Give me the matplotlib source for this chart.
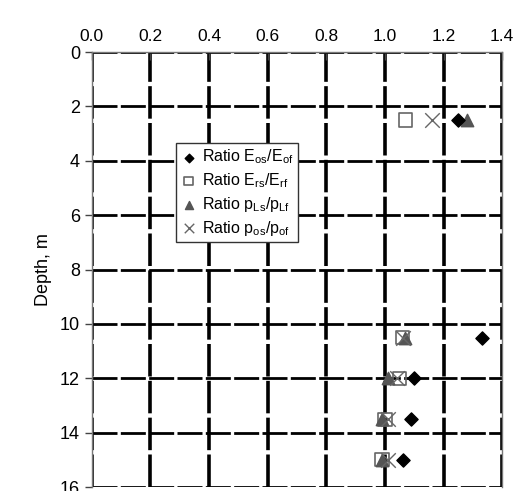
import matplotlib.pyplot as plt

plt.rcParams['font.family'] = ['Liberation Sans', 'DejaVu Sans']

# depths (m) and ratios for each series
depth_e0 = [2.5, 10.5, 12.0, 13.5, 15.0]
ratio_e0 = [1.25, 1.33, 1.10, 1.09, 1.06]

depth_er = [2.5, 10.5, 12.0, 13.5, 15.0]
ratio_er = [1.07, 1.06, 1.05, 1.00, 0.99]

depth_pl = [2.5, 10.5, 12.0, 13.5, 15.0]
ratio_pl = [1.28, 1.07, 1.01, 0.99, 0.99]

depth_p0 = [2.5, 10.5, 12.0, 13.5, 15.0]
ratio_p0 = [1.16, 1.06, 1.04, 1.01, 1.01]

x_ticks = [0.0, 0.2, 0.4, 0.6, 0.8, 1.0, 1.2, 1.4]
y_ticks = [0, 2, 4, 6, 8, 10, 12, 14, 16]

fig = plt.figure(figsize=(5.13, 4.91), dpi=100)
ax = fig.add_axes([0.179, 0.008, 0.800, 0.886])

ax.scatter(ratio_e0, depth_e0, marker='D', s=45, color='black', zorder=5,
           label=r'Ratio E$_{\mathregular{os}}$/E$_{\mathregular{of}}$')
ax.scatter(ratio_er, depth_er, marker='s', s=90, facecolor='none',
           edgecolor='#666666', linewidth=1.2, zorder=4,
           label=r'Ratio E$_{\mathregular{rs}}$/E$_{\mathregular{rf}}$')
ax.scatter(ratio_pl, depth_pl, marker='^', s=80, color='#555555', zorder=4,
           label=r'Ratio p$_{\mathregular{Ls}}$/p$_{\mathregular{Lf}}$')
ax.scatter(ratio_p0, depth_p0, marker='x', s=110, color='#666666',
           linewidth=1.0, zorder=4,
           label=r'Ratio p$_{\mathregular{os}}$/p$_{\mathregular{of}}$')

ax.set_xlim(0, 1.4)
ax.set_ylim(16, 0)
ax.set_xticks(x_ticks)
ax.set_xticklabels([f'{v:.1f}' for v in x_ticks])
ax.set_yticks(y_ticks)
ax.xaxis.tick_top()
ax.tick_params(axis='x', labelsize=12.5, direction='in', length=6,
               color='#444444', width=1.0, pad=6)
ax.tick_params(axis='y', labelsize=13, direction='out', length=5,
               color='#444444', width=1.0)
ax.set_ylabel('Depth, m', fontsize=13, labelpad=6)

ax.xaxis.grid(True, color='black', linestyle=(0, (9, 1.2)), linewidth=2.6)
ax.yaxis.grid(True, color='black', linestyle=(0, (9, 1.2)), linewidth=2.0)
ax.set_axisbelow(True)

for side in ['top', 'left', 'right']:
    ax.spines[side].set_color('#777777')
    ax.spines[side].set_linewidth(1.0)
ax.spines['bottom'].set_visible(False)

leg = ax.legend(loc='upper left', bbox_to_anchor=(0.205, 0.791), fontsize=11.5,
                frameon=True, fancybox=False, edgecolor='#333333',
                framealpha=1, borderpad=0.3, labelspacing=0.3,
                handletextpad=0.3, handlelength=1.0, scatterpoints=1,
                markerscale=0.65, borderaxespad=0)
leg.get_frame().set_linewidth(1.0)

fig.savefig('out.png', dpi=100)
